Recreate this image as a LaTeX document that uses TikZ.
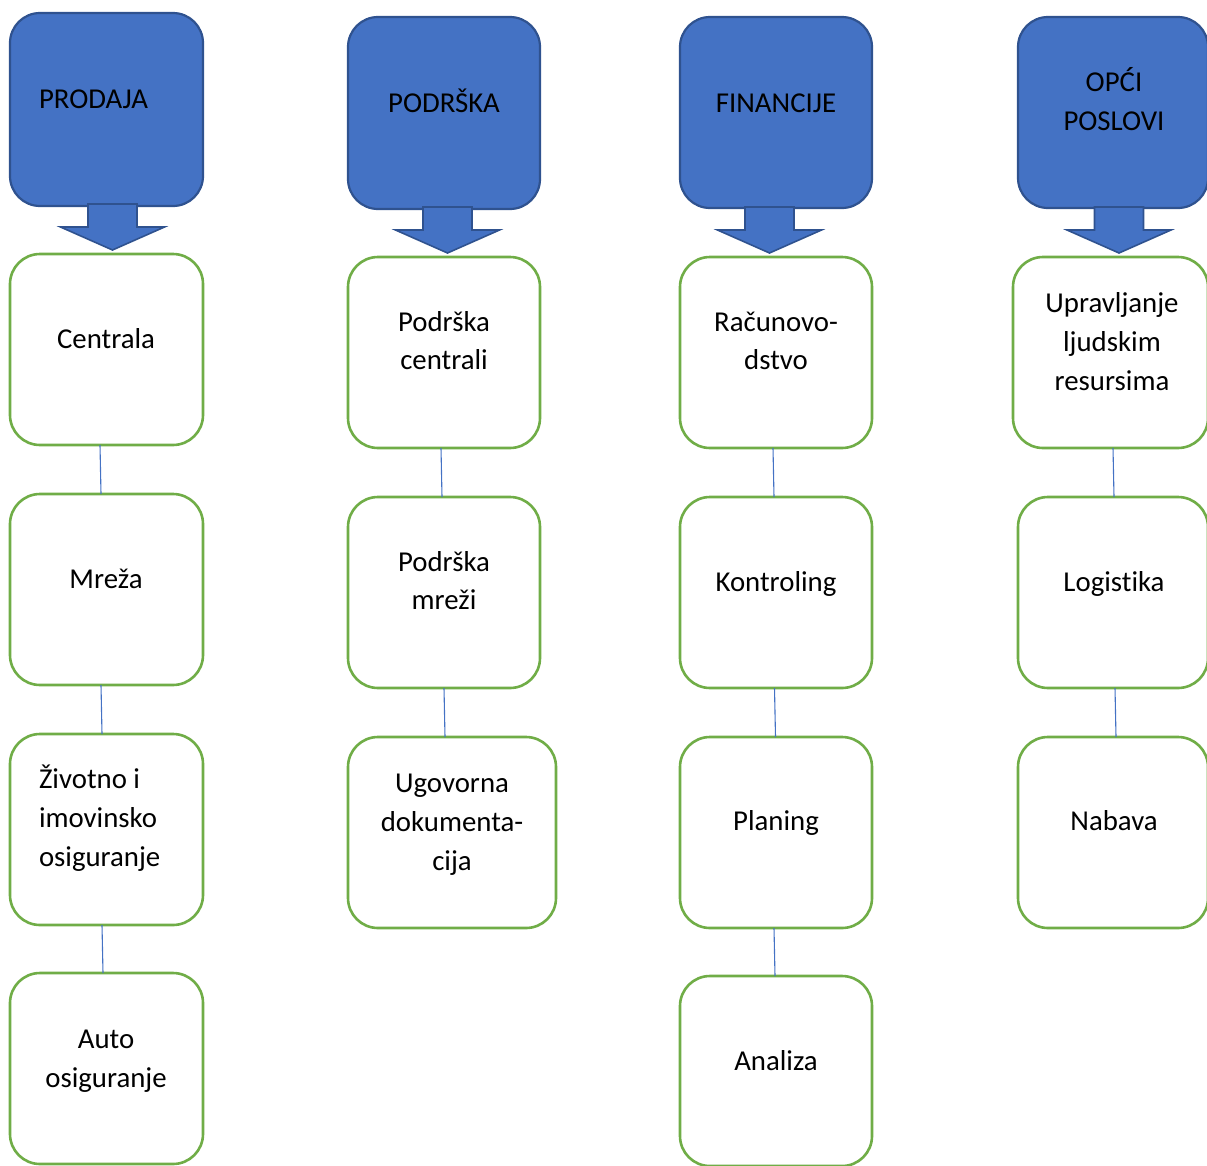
\documentclass[tikz,border=0pt]{standalone}
\usepackage{fontspec}
\setmainfont[Ligatures={NoCommon,NoContextual}]{Carlito}
\definecolor{bfill}{HTML}{4472C4}
\definecolor{bline}{HTML}{2F528F}
\definecolor{gline}{HTML}{70AD47}
\tikzset{
  bbox/.style={draw=bline, fill=bfill, line width=2.2pt, rounded corners=30pt, inner sep=0pt, outer sep=0pt},
  gbox/.style={draw=gline, fill=white, line width=2.6pt, rounded corners=30pt, inner sep=0pt, outer sep=0pt},
  arr/.style={draw=bline, fill=bfill, line width=1.6pt, line join=miter},
  conn/.style={draw=bfill, line width=1.1pt},
  txt/.style={inner sep=0pt, outer sep=0pt, font=\fontsize{28.8}{39}\selectfont, text=black},
}
\newcommand{\barr}[2]{\draw[arr] (#1-24.5,#2) -- (#1+24.5,#2) -- (#1+24.5,#2+23) -- (#1+52,#2+23) -- (#1,#2+46) -- (#1-52,#2+23) -- (#1-24.5,#2+23) -- cycle;}
\newcommand{\tl}[4]{\node[txt,anchor=base] (#1) at (#2,#3+9) {#4};}
\newcommand{\tw}[4]{\node[txt,anchor=base west] (#1) at (#2,#3+9) {#4};}
\begin{document}
\begin{tikzpicture}[x={(1pt,0)}, y={(0,-1pt)}]
\useasboundingbox (0,0) rectangle (1207,1165);
\clip (0,0) rectangle (1207,1165);
% header boxes
\node[bbox, minimum width=193pt, minimum height=193pt] (h1) at (106.5,109.5) {};
\node[bbox, minimum width=192pt, minimum height=192pt] (h2) at (444,113) {};
\node[bbox, minimum width=192pt, minimum height=191pt] (h3) at (776,112.5) {};
\node[bbox, minimum width=190pt, minimum height=191pt] (h4) at (1113,112.5) {};
% arrows
\barr{112.5}{204}
\barr{447.5}{207}
\barr{769.5}{207}
\barr{1119}{207}
% column 1
\node[gbox, minimum width=193pt, minimum height=191pt] (c1) at (106.5,349.5) {};
\node[gbox, minimum width=193pt, minimum height=191pt] (m1) at (106.5,589.5) {};
\node[gbox, minimum width=193pt, minimum height=191pt] (z1) at (106.5,829.5) {};
\node[gbox, minimum width=193pt, minimum height=191pt] (a1) at (106.5,1068.5) {};
% column 2
\node[gbox, minimum width=192pt, minimum height=191pt] (c2) at (444,352.5) {};
\node[gbox, minimum width=192pt, minimum height=191pt] (m2) at (444,592.5) {};
\node[gbox, minimum width=208pt, minimum height=191pt] (u2) at (452,832.5) {};
% column 3
\node[gbox, minimum width=192pt, minimum height=191pt] (r3) at (776,352.5) {};
\node[gbox, minimum width=192pt, minimum height=191pt] (k3) at (776,592.5) {};
\node[gbox, minimum width=192pt, minimum height=191pt] (p3) at (776,832.5) {};
\node[gbox, minimum width=192pt, minimum height=190pt] (a3) at (776,1071) {};
% column 4
\node[gbox, minimum width=195pt, minimum height=191pt] (u4) at (1110.5,352.5) {};
\node[gbox, minimum width=190pt, minimum height=191pt] (l4) at (1113,592.5) {};
\node[gbox, minimum width=190pt, minimum height=191pt] (n4) at (1113,832.5) {};
% connectors
\draw[conn] ([xshift=-6.5pt]c1.south) -- ([xshift=-5.5pt]m1.north);
\draw[conn] ([xshift=-5.5pt]m1.south) -- ([xshift=-4.5pt]z1.north);
\draw[conn] ([xshift=-4.5pt]z1.south) -- ([xshift=-3.5pt]a1.north);
\draw[conn] ([xshift=-3pt]c2.south) -- ([xshift=-2pt]m2.north);
\draw[conn] (m2.south) -- ([xshift=-7pt]u2.north);
\draw[conn] ([xshift=-3pt]r3.south) -- ([xshift=-2pt]k3.north);
\draw[conn] ([xshift=-1.5pt]k3.south) -- ([xshift=-0.5pt]p3.north);
\draw[conn] ([xshift=-2pt]p3.south) -- ([xshift=-1pt]a3.north);
\draw[conn] ([xshift=2.5pt]u4.south) -- ([xshift=1pt]l4.north);
\draw[conn] ([xshift=2pt]l4.south) -- ([xshift=3pt]n4.north);
% texts
\tw{t1}{39}{99}{PRODAJA}
\tl{t2}{444}{103}{PODRŠKA}
\tl{t3}{776}{103}{FINANCIJE}
\tl{t4a}{1114}{82}{OPĆI}
\tl{t4b}{1114}{121}{POSLOVI}
\tl{s1}{106}{339}{Centrala}
\tl{s2}{106}{579}{Mreža}
\tw{s3a}{39}{779}{Životno i}
\tw{s3b}{39}{818}{imovinsko}
\tw{s3c}{39}{857}{osiguranje}
\tl{s4a}{106}{1039}{Auto}
\tl{s4b}{106}{1078}{osiguranje}
\tl{p1a}{444}{322}{Podrška}
\tl{p1b}{444}{360}{centrali}
\tl{p2a}{444}{562}{Podrška}
\tl{p2b}{444}{600}{mreži}
\tl{p3a}{452}{783}{Ugovorna}
\tl{p3b}{452}{822}{dokumenta-}
\tl{p3c}{452}{861}{cija}
\tl{f1a}{776}{322}{Računovo-}
\tl{f1b}{776}{360}{dstvo}
\tl{f2}{776}{582}{Kontroling}
\tl{f3}{776}{821}{Planing}
\tl{f4}{776}{1061}{Analiza}
\tl{o1a}{1112}{303}{Upravljanje}
\tl{o1b}{1112}{342}{ljudskim}
\tl{o1c}{1112}{381}{resursima}
\tl{o2}{1114}{582}{Logistika}
\tl{o3}{1114}{821}{Nabava}
\end{tikzpicture}
\end{document}
